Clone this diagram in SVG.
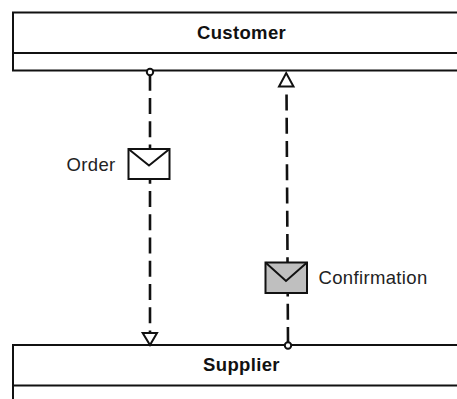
<svg xmlns="http://www.w3.org/2000/svg" width="457" height="399" viewBox="0 0 457 399">
<style>
.o{fill:none;stroke:#111;stroke-width:2}
.d{fill:none;stroke:#111;stroke-width:2.6;stroke-dasharray:16 7.25}
.h{fill:#fff;stroke:#111;stroke-width:2}
.t{font-family:"Liberation Sans",Arial,sans-serif;font-size:18.5px;letter-spacing:.35px;fill:#222}
.b{font-family:"Liberation Sans",Arial,sans-serif;font-size:18.5px;letter-spacing:.35px;font-weight:bold;fill:#111;text-anchor:middle}
</style>
<rect width="457" height="399" fill="#fff"/>
<g id="customer">
<path class="o" d="M457 12.5H13V70.5H457M13 53H457"/>
<text class="b" x="241.5" y="39">Customer</text>
</g>
<g id="supplier">
<path class="o" d="M457 345H13V399M13 385.5H457"/>
<text class="b" x="241.5" y="370.5">Supplier</text>
</g>
<g id="connectors">
<path class="d" d="M150 74.7V334"/>
<circle class="h" cx="150" cy="72" r="3.2"/>
<path class="h" d="M142.7 333H157L150 345Z"/>
<path class="d" d="M288 343L286.5 88"/>
<circle class="h" cx="288" cy="345.5" r="3.2"/>
<path class="h" d="M279 86.5H293.5L286.2 73Z"/>
</g>
<g id="order">
<rect class="h" x="128.5" y="149" width="41" height="30"/>
<path class="o" d="M128.5 149L149 165.5L169.5 149"/>
<text class="t" x="66.5" y="170.5">Order</text>
</g>
<g id="confirmation">
<rect x="265.5" y="262.5" width="41.5" height="30.5" fill="#bfbfbf" stroke="#111" stroke-width="2"/>
<path class="o" d="M265.5 262.5L286 281L307 262.5"/>
<text class="t" x="318.5" y="284">Confirmation</text>
</g>
</svg>
